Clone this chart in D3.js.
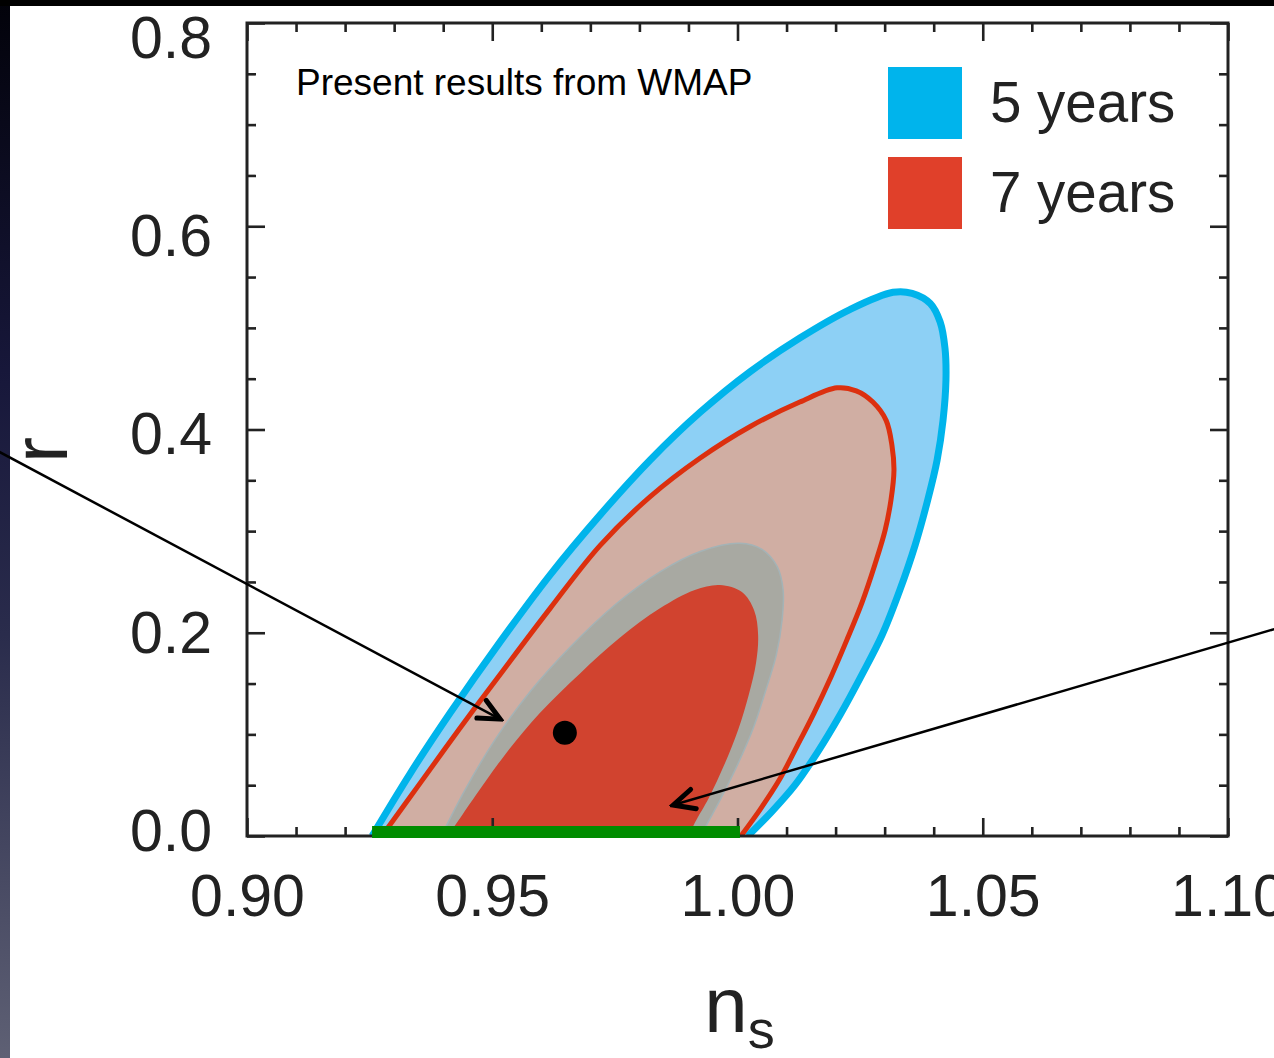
<!DOCTYPE html>
<html>
<head>
<meta charset="utf-8">
<script src="https://cdn.jsdelivr.net/npm/d3@7"></script>
<style>
  html, body { margin: 0; padding: 0; background: #fff; overflow: hidden; }
  svg { display: block; font-family: "Liberation Sans", Arial, Helvetica, sans-serif; }
</style>
</head>
<body>
<svg id="chart" width="1274" height="1058"></svg>
<script>
// ---- data (n_s, r) ----
const nsTicks = [0.90, 0.95, 1.00, 1.05, 1.10];
const rTicks = [0.0, 0.2, 0.4, 0.6, 0.8];

// WMAP 5-year, 95% CL boundary
const wmap5_95 = [
  [0.9255, 0.000], [0.9332, 0.061], [0.9414, 0.121], [0.9516, 0.191], [0.9618, 0.257],
  [0.9720, 0.316], [0.9822, 0.370], [0.9924, 0.417], [1.0026, 0.457], [1.0127, 0.490],
  [1.0229, 0.518], [1.0317, 0.535], [1.0356, 0.534], [1.0393, 0.524], [1.0413, 0.506],
  [1.0423, 0.480], [1.0425, 0.449], [1.0419, 0.409], [1.0407, 0.370], [1.0388, 0.331],
  [1.0362, 0.286], [1.0331, 0.242], [1.0295, 0.198], [1.0254, 0.159], [1.0209, 0.119],
  [1.0164, 0.083], [1.0117, 0.050], [1.0070, 0.024], [1.0021, 0.000]
];
// WMAP 7-year, 95% CL boundary
const wmap7_95 = [
  [0.9275, 0.000], [0.9353, 0.052], [0.9434, 0.106], [0.9516, 0.159], [0.9618, 0.224],
  [0.9720, 0.286], [0.9822, 0.334], [0.9924, 0.372], [1.0026, 0.403], [1.0127, 0.427],
  [1.0203, 0.441], [1.0242, 0.438], [1.0276, 0.427], [1.0303, 0.409], [1.0315, 0.384],
  [1.0319, 0.360], [1.0313, 0.331], [1.0301, 0.301], [1.0280, 0.267], [1.0254, 0.230],
  [1.0223, 0.193], [1.0191, 0.157], [1.0156, 0.121], [1.0121, 0.088], [1.0085, 0.055],
  [1.0046, 0.026], [1.0007, 0.000]
];
// WMAP 5-year, 68% CL boundary
const wmap5_68 = [
  [0.9396, 0.000], [0.9444, 0.045], [0.9506, 0.095], [0.9577, 0.142], [0.9659, 0.186],
  [0.9754, 0.229], [0.9842, 0.260], [0.9924, 0.280], [1.0005, 0.288], [1.0050, 0.282],
  [1.0081, 0.265], [1.0093, 0.242], [1.0091, 0.213], [1.0079, 0.178], [1.0058, 0.144],
  [1.0032, 0.106], [0.9999, 0.069], [0.9964, 0.035], [0.9936, 0.010], [0.9926, 0.000]
];
// WMAP 7-year, 68% CL boundary
const wmap7_68 = [
  [0.9410, 0.000], [0.9465, 0.039], [0.9526, 0.080], [0.9597, 0.121], [0.9679, 0.160],
  [0.9760, 0.195], [0.9842, 0.224], [0.9913, 0.242], [0.9964, 0.247], [1.0009, 0.240],
  [1.0034, 0.222], [1.0042, 0.198], [1.0038, 0.171], [1.0023, 0.139], [1.0001, 0.104],
  [0.9973, 0.070], [0.9942, 0.038], [0.9913, 0.013], [0.9901, 0.000]
];

// n_s range allowed at r = 0
const rZeroBand = [0.9255, 1.0005];
// best-fit point
const bestFit = [0.9648, 0.1015];
// annotation arrows: [from, to]
const arrows = [
  [[0.8456, 0.388], [0.9516, 0.115]],
  [[1.1140, 0.210], [0.9869, 0.0305]]
];

const legendLabels = ["5 years", "7 years"];
const titleText = "Present results from WMAP";

// ---- layout ----
const svg = d3.select("#chart");
const W = 1274, H = 1058;
const plot = { left: 247, right: 1228, top: 23, bottom: 836 };
const x = d3.scaleLinear().domain([0.90, 1.10]).range([plot.left, plot.right]);
const y = d3.scaleLinear().domain([0, 0.8]).range([plot.bottom, plot.top]);
const font = '"Liberation Sans", Arial, Helvetica, sans-serif';

const defs = svg.append("defs");
const grad = defs.append("linearGradient").attr("id", "edge").attr("x1", 0).attr("y1", 0).attr("x2", 0).attr("y2", 1);
[[0, "#02020a"], [0.35, "#17173a"], [0.6, "#2a2c4c"], [1, "#5e6074"]].forEach(([o, c]) =>
  grad.append("stop").attr("offset", o).attr("stop-color", c));
defs.append("clipPath").attr("id", "plotClip").append("rect")
  .attr("x", plot.left).attr("y", plot.top)
  .attr("width", plot.right - plot.left).attr("height", plot.bottom - plot.top);
defs.append("marker").attr("id", "chev")
  .attr("markerUnits", "userSpaceOnUse").attr("orient", "auto")
  .attr("viewBox", "-26 -14 30 28").attr("refX", 0).attr("refY", 0)
  .attr("markerWidth", 30).attr("markerHeight", 28)
  .append("path").attr("d", "M-21,-10 L0,0 L-21,10")
  .attr("fill", "none").attr("stroke", "#000").attr("stroke-width", 5)
  .attr("stroke-linecap", "round").attr("stroke-linejoin", "miter");

// page background
svg.append("rect").attr("width", W).attr("height", H).attr("fill", "#fff");
svg.append("rect").attr("x", 0).attr("y", 0).attr("width", 10).attr("height", H).attr("fill", "url(#edge)");
svg.append("rect").attr("x", 0).attr("y", 0).attr("width", W).attr("height", 6).attr("fill", "#000");

// ---- confidence regions ----
const curve = d3.line().x(d => x(d[0])).y(d => y(d[1])).curve(d3.curveCatmullRom.alpha(0.5));
const regions = svg.append("g").attr("clip-path", "url(#plotClip)");
const layers = [
  { pts: wmap5_95, fill: "#8dd0f5", stroke: "#00b4eb", sw: 7 },
  { pts: wmap7_95, fill: "#d0aea3", stroke: "#dc300f", sw: 5 },
  { pts: wmap5_68, fill: "#a8a9a2", stroke: "#a4b3b6", sw: 1.5 },
  { pts: wmap7_68, fill: "#d1432f", stroke: null, sw: 0 }
];
layers.forEach(l => {
  regions.append("path").attr("d", curve(l.pts) + "Z").attr("fill", l.fill);
  if (l.stroke) {
    regions.append("path").attr("d", curve(l.pts)).attr("fill", "none")
      .attr("stroke", l.stroke).attr("stroke-width", l.sw);
  }
});

// ---- frame and ticks ----
const axisColor = "#222";
function styleAxis(g) {
  g.select(".domain").remove();
  g.selectAll(".tick line").attr("stroke", axisColor).attr("stroke-width", 2.6);
  g.selectAll("text").attr("fill", "#222").attr("font-family", font).attr("font-size", 59);
}
const nsMinor = d3.range(91, 110).filter(v => v % 5 !== 0).map(v => v / 100);
const rMinor = d3.range(1, 16).filter(v => v % 4 !== 0).map(v => v * 0.05);

// bottom
svg.append("g").attr("transform", `translate(0,${plot.bottom})`)
  .call(d3.axisBottom(x).tickValues(nsMinor).tickSizeInner(-9).tickSizeOuter(0).tickFormat(""))
  .call(styleAxis);
svg.append("g").attr("transform", `translate(0,${plot.bottom})`)
  .call(d3.axisBottom(x).tickValues(nsTicks).tickSizeInner(-18).tickSizeOuter(0).tickFormat(d3.format(".2f")))
  .call(styleAxis)
  .call(g => g.selectAll("text").attr("y", 80).attr("dy", 0));
// top
svg.append("g").attr("transform", `translate(0,${plot.top})`)
  .call(d3.axisTop(x).tickValues(nsMinor).tickSizeInner(-9).tickSizeOuter(0).tickFormat(""))
  .call(styleAxis);
svg.append("g").attr("transform", `translate(0,${plot.top})`)
  .call(d3.axisTop(x).tickValues(nsTicks).tickSizeInner(-18).tickSizeOuter(0).tickFormat(""))
  .call(styleAxis);
// left
svg.append("g").attr("transform", `translate(${plot.left},0)`)
  .call(d3.axisLeft(y).tickValues(rMinor).tickSizeInner(-9).tickSizeOuter(0).tickFormat(""))
  .call(styleAxis);
svg.append("g").attr("transform", `translate(${plot.left},0)`)
  .call(d3.axisLeft(y).tickValues(rTicks).tickSizeInner(-18).tickSizeOuter(0).tickPadding(35).tickFormat(d3.format(".1f")))
  .call(styleAxis)
  .call(g => g.selectAll("text").attr("dy", d => (3.4 + 24 * (d - 0.4) + 21) + "px"));
// right
svg.append("g").attr("transform", `translate(${plot.right},0)`)
  .call(d3.axisRight(y).tickValues(rMinor).tickSizeInner(-9).tickSizeOuter(0).tickFormat(""))
  .call(styleAxis);
svg.append("g").attr("transform", `translate(${plot.right},0)`)
  .call(d3.axisRight(y).tickValues(rTicks).tickSizeInner(-18).tickSizeOuter(0).tickFormat(""))
  .call(styleAxis);

svg.append("rect")
  .attr("x", plot.left).attr("y", plot.top)
  .attr("width", plot.right - plot.left).attr("height", plot.bottom - plot.top)
  .attr("fill", "none").attr("stroke", axisColor).attr("stroke-width", 3);

// r = 0 band
svg.append("rect")
  .attr("x", x(rZeroBand[0])).attr("y", plot.bottom - 10)
  .attr("width", x(rZeroBand[1]) - x(rZeroBand[0])).attr("height", 12)
  .attr("fill", "#008c00");

// best-fit point
svg.append("circle").attr("cx", x(bestFit[0])).attr("cy", y(bestFit[1])).attr("r", 12).attr("fill", "#000");

// ---- annotation arrows ----
svg.selectAll("line.arrow").data(arrows).join("line").attr("class", "arrow")
  .attr("x1", d => x(d[0][0])).attr("y1", d => y(d[0][1]))
  .attr("x2", d => x(d[1][0])).attr("y2", d => y(d[1][1]))
  .attr("stroke", "#000").attr("stroke-width", 2.5)
  .attr("marker-end", "url(#chev)");

// ---- title and legend ----
svg.append("text").attr("x", 296).attr("y", 95)
  .attr("font-family", font).attr("font-size", 37).attr("fill", "#000").text(titleText);

const legendColors = ["#00b4ec", "#e0402a"];
const lg = svg.append("g").attr("transform", "translate(888,67)");
legendLabels.forEach((lab, i) => {
  lg.append("rect").attr("x", 0).attr("y", i * 90).attr("width", 74).attr("height", 72).attr("fill", legendColors[i]);
  lg.append("text").attr("x", 102).attr("y", i * 90 + 55)
    .attr("font-family", font).attr("font-size", 56.5).attr("fill", "#222").text(lab);
});

// ---- axis titles ----
const xt = svg.append("text").attr("x", (plot.left + plot.right) / 2 + 2).attr("y", 1032)
  .attr("text-anchor", "middle").attr("font-family", font).attr("fill", "#222");
xt.append("tspan").attr("font-size", 78).text("n");
xt.append("tspan").attr("font-size", 54).attr("dy", 16).text("s");

svg.append("text").attr("transform", "translate(67,450) rotate(-90)")
  .attr("text-anchor", "middle").attr("font-family", font).attr("font-size", 78)
  .attr("fill", "#222").text("r");
</script>
</body>
</html>
